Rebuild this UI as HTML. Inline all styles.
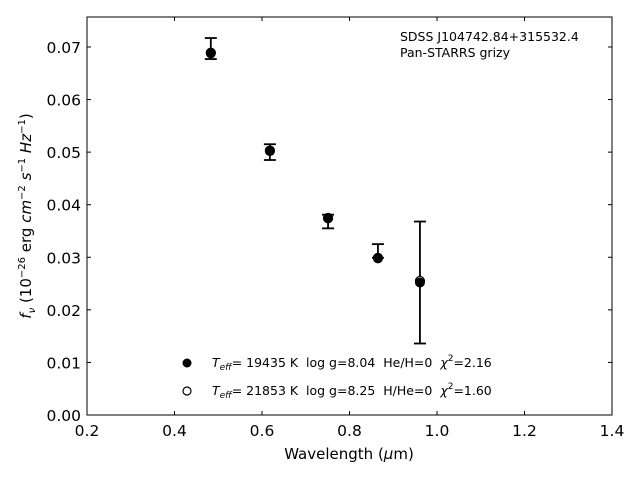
<!DOCTYPE html>
<html><head><meta charset="utf-8"><style>
body{margin:0;background:#fff;}
svg text{font-family:"DejaVu Sans","Liberation Sans",sans-serif;white-space:pre;}
</style></head><body>
<svg id="chart" width="640" height="480" xmlns="http://www.w3.org/2000/svg">
<rect x="0" y="0" width="640" height="480" fill="#fff"/>
<g id="marks"></g>
<rect x="87" y="17" width="525" height="398" fill="none" stroke="#000" stroke-width="1"/>
<g id="axes"></g>
<text x="349" y="459" font-size="15" text-anchor="middle">Wavelength (<tspan font-style="italic">μ</tspan>m)</text>
<text transform="translate(31,216) rotate(-90)" font-size="15" text-anchor="middle"><tspan font-style="italic">f</tspan><tspan font-size="10" dy="4" font-style="italic">ν</tspan><tspan dy="-4"> (10</tspan><tspan font-size="10" dy="-6">−26</tspan><tspan dy="6"> erg </tspan><tspan font-style="italic">cm</tspan><tspan font-size="10" dy="-6">−2</tspan><tspan dy="6"> </tspan><tspan font-style="italic">s</tspan><tspan font-size="10" dy="-6">−1</tspan><tspan dy="6"> </tspan><tspan font-style="italic">Hz</tspan><tspan font-size="10" dy="-6">−1</tspan><tspan dy="6">)</tspan></text>
<text x="400" y="41" font-size="12.5">SDSS J104742.84+315532.4</text>
<text x="400" y="57" font-size="12.5">Pan-STARRS grizy</text>
<g>
<circle cx="187" cy="363" r="4.5" fill="#000"/>
<text x="212" y="367" font-size="12.5"><tspan font-style="italic">T</tspan><tspan font-size="9" dy="3" font-style="italic">eff</tspan><tspan dy="-3">= 19435 K  log g=8.04  He/H=0  </tspan><tspan font-style="italic">χ</tspan><tspan font-size="9" dy="-6">2</tspan><tspan dy="6">=2.16</tspan></text>
<circle cx="187" cy="391" r="4" fill="#fff" stroke="#000" stroke-width="1.2"/>
<text x="212" y="395" font-size="12.5"><tspan font-style="italic">T</tspan><tspan font-size="9" dy="3" font-style="italic">eff</tspan><tspan dy="-3">= 21853 K  log g=8.25  H/He=0  </tspan><tspan font-style="italic">χ</tspan><tspan font-size="9" dy="-6">2</tspan><tspan dy="6">=1.60</tspan></text>
</g>
</svg>
<script>
const wavelengths=[0.483,0.618,0.751,0.865,0.961];
const obsFlux=[0.0697,0.0500,0.0368,0.0312,0.0252];
const obsErr=[0.0020,0.0015,0.0013,0.0013,0.0116];
const modelHe=[0.0688,0.0502,0.0374,0.0298,0.0252];
const modelH=[0.0689,0.0503,0.0375,0.0299,0.0255];
const xTicks=[0.2,0.4,0.6,0.8,1.0,1.2,1.4];
const xTickLabels=["0.2","0.4","0.6","0.8","1.0","1.2","1.4"];
const yTicks=[0,0.01,0.02,0.03,0.04,0.05,0.06,0.07];
const yTickLabels=["0.00","0.01","0.02","0.03","0.04","0.05","0.06","0.07"];
const L=87,R=612,T=17,B=415,xmin=0.2,xmax=1.4,ymin=0,ymax=0.0757;
const sx=v=>L+(v-xmin)/(xmax-xmin)*(R-L);
const sy=v=>B-(v-ymin)/(ymax-ymin)*(B-T);
const NS="http://www.w3.org/2000/svg";
function mk(tag,attrs,parent){const e=document.createElementNS(NS,tag);for(const k in attrs)e.setAttribute(k,attrs[k]);parent.appendChild(e);return e;}
const ax=document.getElementById('axes'),mg=document.getElementById('marks');
xTicks.forEach((t,i)=>{const x=sx(t);
const a=mk('line',{x1:x,x2:x,y1:B,y2:B-4,stroke:'#000'},ax);


const b=mk('line',{x1:x,x2:x,y1:T,y2:T+4,stroke:'#000'},ax);


const tx=mk('text',{x:x,y:B+21,'font-size':15.5,'text-anchor':'middle'},ax);tx.textContent=xTickLabels[i];

});
yTicks.forEach((t,i)=>{const y=sy(t);
const a=mk('line',{x1:L,x2:L+4,y1:y,y2:y,stroke:'#000'},ax);


const b=mk('line',{x1:R,x2:R-4,y1:y,y2:y,stroke:'#000'},ax);


const tx=mk('text',{x:L-6,y:y+6,'font-size':15.5,'text-anchor':'end'},ax);tx.textContent=yTickLabels[i];

});
wavelengths.forEach((w,i)=>{const x=sx(w),y1=sy(obsFlux[i]+obsErr[i]),y2=sy(obsFlux[i]-obsErr[i]);
const g=mk('g',{stroke:'#000','stroke-width':1.8},mg);


mk('line',{x1:x,x2:x,y1:y1,y2:y2},g);mk('line',{x1:x-6,x2:x+6,y1:y1,y2:y1},g);mk('line',{x1:x-6,x2:x+6,y1:y2,y2:y2},g);
const o=mk('circle',{cx:x,cy:sy(modelH[i]),r:4.5,fill:'#fff',stroke:'#000','stroke-width':1.2},mg);


const f=mk('circle',{cx:x,cy:sy(modelHe[i]),r:5,fill:'#000'},mg);

});
</script>
</body></html>
